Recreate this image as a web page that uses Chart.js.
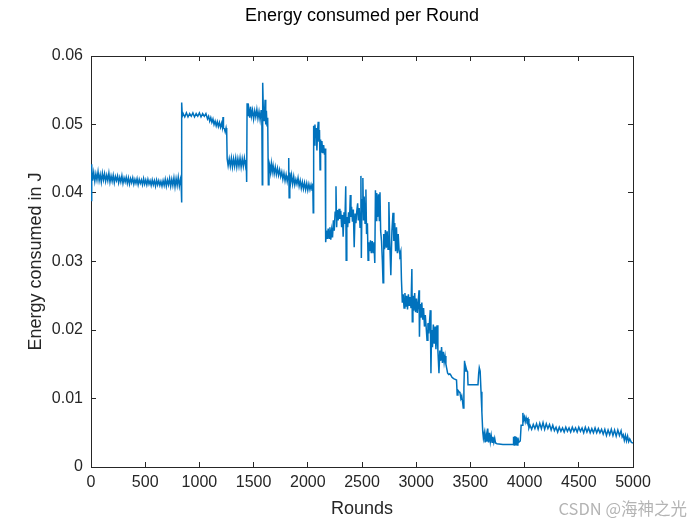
<!DOCTYPE html>
<html>
<head>
<meta charset="utf-8">
<script src="https://cdn.jsdelivr.net/npm/chart.js@4.4.0/dist/chart.umd.min.js"></script>
<style>html,body{margin:0;padding:0;background:#fff;}canvas{display:block;}</style>
</head>
<body>
<canvas id="c" width="700" height="525"></canvas>
<script>
const chartTitle = 'Energy consumed per Round';
const xTitle = 'Rounds';
const yTitle = 'Energy consumed in J';
const watermark = 'CSDN @海神之光';
const xTicks = [0, 500, 1000, 1500, 2000, 2500, 3000, 3500, 4000, 4500, 5000];
const yTicks = [0, 0.01, 0.02, 0.03, 0.04, 0.05, 0.06];
const yTickLabels = ['0', '0.01', '0.02', '0.03', '0.04', '0.05', '0.06'];

const rounds = [
  0,5,8,15,25,35,45,55,65,75,
  85,95,105,115,125,135,145,155,165,175,
  185,195,205,215,225,235,245,255,265,275,
  285,295,305,315,325,335,345,355,365,375,
  385,395,405,415,425,435,445,455,465,475,
  485,495,505,515,525,535,545,555,565,575,
  585,595,605,615,625,635,645,655,665,675,
  685,695,705,715,725,735,745,755,765,775,
  785,795,805,815,825,832,835,838,842,850,
  865,880,895,910,925,940,955,970,985,1000,
  1015,1030,1045,1060,1075,1085,1095,1105,1115,1125,
  1135,1145,1155,1165,1175,1185,1195,1205,1212,1218,
  1222,1230,1238,1246,1252,1256,1265,1275,1285,1295,
  1305,1315,1325,1335,1345,1355,1365,1375,1385,1395,
  1405,1415,1425,1432,1436,1440,1448,1456,1464,1472,
  1480,1490,1500,1510,1520,1530,1540,1550,1560,1570,
  1576,1580,1584,1590,1598,1606,1612,1618,1624,1630,
  1636,1642,1648,1656,1664,1672,1680,1690,1700,1710,
  1720,1730,1740,1750,1760,1770,1780,1790,1800,1810,
  1818,1824,1828,1834,1842,1850,1860,1870,1880,1890,
  1900,1910,1920,1930,1940,1950,1960,1970,1980,1990,
  2000,2010,2020,2030,2040,2046,2050,2054,2060,2066,
  2072,2078,2084,2090,2096,2102,2108,2113,2118,2124,
  2130,2138,2146,2154,2160,2165,2172,2180,2188,2196,
  2204,2212,2220,2228,2236,2244,2252,2260,2266,2272,
  2280,2288,2296,2304,2312,2320,2326,2334,2342,2350,
  2354,2360,2368,2376,2384,2392,2398,2404,2412,2420,
  2428,2436,2444,2452,2460,2466,2474,2482,2490,2494,
  2500,2508,2514,2520,2528,2536,2542,2550,2556,2562,
  2570,2578,2586,2594,2602,2610,2618,2624,2630,2636,
  2644,2652,2660,2666,2672,2680,2688,2694,2700,2708,
  2716,2724,2732,2740,2748,2756,2766,2776,2786,2794,
  2802,2810,2818,2826,2834,2842,2850,2858,2864,2872,
  2880,2888,2896,2904,2912,2920,2928,2936,2944,2952,
  2960,2964,2970,2978,2986,2994,3002,3010,3018,3026,
  3030,3036,3044,3052,3060,3068,3076,3084,3092,3100,
  3108,3116,3124,3130,3136,3142,3150,3158,3166,3174,
  3182,3192,3200,3210,3218,3226,3234,3242,3250,3258,
  3266,3274,3280,3290,3300,3310,3320,3330,3345,3360,
  3372,3378,3385,3395,3404,3412,3420,3428,3434,3440,
  3446,3452,3458,3466,3474,3478,3500,3530,3570,3576,
  3582,3590,3598,3606,3614,3620,3628,3636,3644,3652,
  3660,3668,3676,3684,3692,3700,3708,3716,3724,3732,
  3745,3800,3850,3893,3898,3904,3910,3916,3922,3930,
  3938,3946,3960,3968,3978,3984,3990,3998,4006,4014,
  4022,4032,4040,4050,4065,4080,4095,4110,4125,4140,
  4155,4170,4185,4200,4215,4230,4245,4260,4275,4290,
  4305,4320,4335,4350,4365,4380,4395,4410,4425,4440,
  4455,4470,4485,4500,4515,4530,4545,4560,4575,4590,
  4605,4620,4635,4650,4665,4680,4695,4710,4725,4740,
  4755,4770,4785,4800,4815,4830,4845,4860,4875,4890,
  4900,4910,4920,4930,4940,4950,4960,4970,4985,5000
];

const energy = [
  0.0442,0.0388,0.0438,0.0418,0.0430,0.0417,0.0428,0.0419,0.0431,0.0418,
  0.0427,0.0416,0.0429,0.0419,0.0428,0.0417,0.0426,0.0418,0.0429,0.0416,
  0.0425,0.0417,0.0426,0.0415,0.0424,0.0418,0.0425,0.0415,0.0423,0.0416,
  0.0425,0.0414,0.0422,0.0416,0.0423,0.0414,0.0422,0.0413,0.0421,0.0415,
  0.0422,0.0413,0.0420,0.0414,0.0421,0.0412,0.0420,0.0414,0.0419,0.0412,
  0.0421,0.0413,0.0419,0.0412,0.0420,0.0413,0.0418,0.0411,0.0419,0.0412,
  0.0418,0.0410,0.0419,0.0412,0.0418,0.0411,0.0417,0.0410,0.0418,0.0411,
  0.0420,0.0410,0.0419,0.0412,0.0421,0.0410,0.0420,0.0411,0.0422,0.0409,
  0.0421,0.0411,0.0423,0.0410,0.0420,0.0412,0.0386,0.0532,0.0512,0.0516,
  0.0511,0.0517,0.0511,0.0516,0.0512,0.0517,0.0511,0.0516,0.0512,0.0517,
  0.0511,0.0516,0.0512,0.0516,0.0508,0.0512,0.0505,0.0510,0.0503,0.0508,
  0.0500,0.0505,0.0498,0.0504,0.0497,0.0503,0.0496,0.0502,0.0496,0.0511,
  0.0495,0.0494,0.0489,0.0495,0.0489,0.0450,0.0440,0.0450,0.0439,0.0451,
  0.0438,0.0450,0.0439,0.0451,0.0438,0.0450,0.0439,0.0451,0.0438,0.0450,
  0.0439,0.0451,0.0440,0.0448,0.0416,0.0531,0.0512,0.0522,0.0510,0.0526,
  0.0512,0.0521,0.0508,0.0520,0.0511,0.0522,0.0509,0.0519,0.0507,0.0521,
  0.0510,0.0412,0.0561,0.0520,0.0505,0.0536,0.0500,0.0520,0.0498,0.0510,
  0.0412,0.0445,0.0441,0.0430,0.0443,0.0431,0.0440,0.0428,0.0438,0.0427,
  0.0436,0.0426,0.0434,0.0424,0.0431,0.0420,0.0429,0.0418,0.0427,0.0417,
  0.0425,0.0451,0.0393,0.0430,0.0416,0.0426,0.0413,0.0424,0.0412,0.0420,
  0.0413,0.0422,0.0410,0.0418,0.0407,0.0416,0.0406,0.0415,0.0405,0.0414,
  0.0404,0.0413,0.0405,0.0412,0.0404,0.0414,0.0371,0.0498,0.0470,0.0500,
  0.0480,0.0495,0.0462,0.0490,0.0504,0.0475,0.0492,0.0434,0.0478,0.0460,
  0.0476,0.0458,0.0470,0.0456,0.0465,0.0328,0.0345,0.0333,0.0348,0.0334,
  0.0350,0.0332,0.0346,0.0335,0.0360,0.0345,0.0372,0.0410,0.0350,0.0375,
  0.0360,0.0377,0.0362,0.0374,0.0350,0.0368,0.0336,0.0372,0.0355,0.0410,
  0.0302,0.0365,0.0350,0.0372,0.0356,0.0397,0.0365,0.0380,0.0358,0.0376,
  0.0321,0.0370,0.0356,0.0374,0.0385,0.0360,0.0378,0.0350,0.0425,0.0305,
  0.0390,0.0422,0.0360,0.0395,0.0356,0.0405,0.0340,0.0356,0.0302,0.0328,
  0.0315,0.0331,0.0312,0.0330,0.0313,0.0328,0.0298,0.0404,0.0360,0.0400,
  0.0365,0.0398,0.0360,0.0401,0.0345,0.0330,0.0300,0.0269,0.0340,0.0318,
  0.0346,0.0320,0.0344,0.0318,0.0387,0.0330,0.0280,0.0345,0.0371,0.0330,
  0.0356,0.0315,0.0350,0.0312,0.0340,0.0316,0.0310,0.0315,0.0273,0.0240,
  0.0252,0.0232,0.0254,0.0234,0.0250,0.0230,0.0252,0.0235,0.0248,0.0232,
  0.0289,0.0212,0.0250,0.0228,0.0254,0.0226,0.0246,0.0225,0.0240,0.0258,
  0.0190,0.0238,0.0218,0.0240,0.0215,0.0232,0.0205,0.0222,0.0204,0.0185,
  0.0210,0.0195,0.0215,0.0229,0.0137,0.0200,0.0175,0.0208,0.0180,0.0205,
  0.0172,0.0207,0.0171,0.0137,0.0170,0.0155,0.0175,0.0152,0.0168,0.0153,
  0.0162,0.0150,0.0145,0.0137,0.0135,0.0136,0.0134,0.0131,0.0129,0.0128,
  0.0127,0.0105,0.0112,0.0110,0.0108,0.0100,0.0104,0.0095,0.0086,0.0115,
  0.0155,0.0140,0.0146,0.0141,0.0139,0.0120,0.0120,0.0120,0.0120,0.0136,
  0.0145,0.0140,0.0110,0.0080,0.0051,0.0042,0.0050,0.0036,0.0048,0.0037,
  0.0056,0.0036,0.0050,0.0037,0.0046,0.0036,0.0044,0.0036,0.0042,0.0035,
  0.0034,0.0033,0.0033,0.0033,0.0044,0.0032,0.0045,0.0032,0.0044,0.0032,
  0.0043,0.0036,0.0038,0.0061,0.0061,0.0079,0.0068,0.0073,0.0066,0.0072,
  0.0067,0.0070,0.0057,0.0061,0.0055,0.0062,0.0056,0.0063,0.0055,0.0064,
  0.0056,0.0065,0.0055,0.0063,0.0056,0.0062,0.0054,0.0061,0.0053,0.0058,
  0.0051,0.0058,0.0052,0.0057,0.0051,0.0058,0.0052,0.0057,0.0051,0.0058,
  0.0052,0.0057,0.0051,0.0058,0.0052,0.0057,0.0050,0.0058,0.0051,0.0057,
  0.0050,0.0056,0.0050,0.0057,0.0050,0.0056,0.0050,0.0055,0.0048,0.0055,
  0.0046,0.0054,0.0047,0.0055,0.0046,0.0054,0.0045,0.0054,0.0046,0.0053,
  0.0044,0.0047,0.0039,0.0046,0.0038,0.0045,0.0037,0.0041,0.0036,0.0035
];

const FONT = "'Liberation Sans', Arial, Helvetica, sans-serif";
const AXIS_COLOR = '#262626';

const points = rounds.map((r, i) => ({ x: r, y: energy[i] }));

const gridOpts = { drawOnChartArea: false, drawTicks: true, tickLength: -5, color: AXIS_COLOR, lineWidth: 1 };
const borderOpts = { display: true, color: AXIS_COLOR, width: 1 };

const watermarkPlugin = {
  id: 'watermark',
  afterDraw(chart) {
    const ctx = chart.ctx;
    ctx.save();
    ctx.font = "16.5px 'Noto Sans CJK SC', sans-serif";
    ctx.fillStyle = '#b4b4b4';
    ctx.textAlign = 'right';
    ctx.textBaseline = 'middle';
    ctx.fillText(watermark, 687, 509);
    ctx.restore();
  }
};

new Chart(document.getElementById('c'), {
  type: 'scatter',
  data: {
    datasets: [{
      data: points,
      showLine: true,
      borderColor: '#0072BD',
      backgroundColor: '#0072BD',
      borderWidth: 1.5,
      pointRadius: 0,
      tension: 0,
      fill: false
    }]
  },
  options: {
    responsive: false,
    animation: false,
    events: [],
    layout: { padding: { left: 0, right: 67, top: 0, bottom: 0 } },
    plugins: {
      legend: { display: false },
      tooltip: { enabled: false },
      title: {
        display: true,
        text: chartTitle,
        fullSize: false,
        color: '#000',
        font: { family: FONT, size: 18, weight: 'normal', lineHeight: 1.2 },
        padding: { top: 5, bottom: 29.4 }
      }
    },
    scales: {
      x: {
        type: 'linear', position: 'bottom', min: 0, max: 5000,
        afterBuildTicks: s => { s.ticks = xTicks.map(v => ({ value: v })); },
        afterFit: s => { s.height = 58; },
        ticks: { color: AXIS_COLOR, font: { family: FONT, size: 16 }, padding: 11, maxRotation: 0, autoSkip: false,
                 callback: v => String(v) },
        grid: gridOpts, border: borderOpts,
        title: { display: true, text: xTitle, color: AXIS_COLOR, font: { family: FONT, size: 18 }, padding: { top: 0, bottom: 5 } }
      },
      x2: {
        type: 'linear', axis: 'x', position: 'top', min: 0, max: 5000,
        afterBuildTicks: s => { s.ticks = xTicks.map(v => ({ value: v })); },
        afterFit: s => { s.height = 0; },
        ticks: { display: false },
        grid: gridOpts, border: borderOpts
      },
      y: {
        type: 'linear', position: 'left', min: 0, max: 0.06,
        afterBuildTicks: s => { s.ticks = yTicks.map(v => ({ value: v })); },
        afterFit: s => { s.width = 91; },
        ticks: { color: AXIS_COLOR, font: { family: FONT, size: 16 }, padding: 13, autoSkip: false,
                 callback: (v, i) => yTickLabels[yTicks.indexOf(v)] ?? String(v) },
        grid: gridOpts, border: borderOpts,
        title: { display: true, text: yTitle, color: AXIS_COLOR, font: { family: FONT, size: 18 }, padding: { top: 25, bottom: 0 } }
      },
      y2: {
        type: 'linear', axis: 'y', position: 'right', min: 0, max: 0.06,
        afterBuildTicks: s => { s.ticks = yTicks.map(v => ({ value: v })); },
        afterFit: s => { s.width = 0; },
        ticks: { display: false },
        grid: gridOpts, border: borderOpts
      }
    }
  },
  plugins: [watermarkPlugin]
});
</script>
</body>
</html>
